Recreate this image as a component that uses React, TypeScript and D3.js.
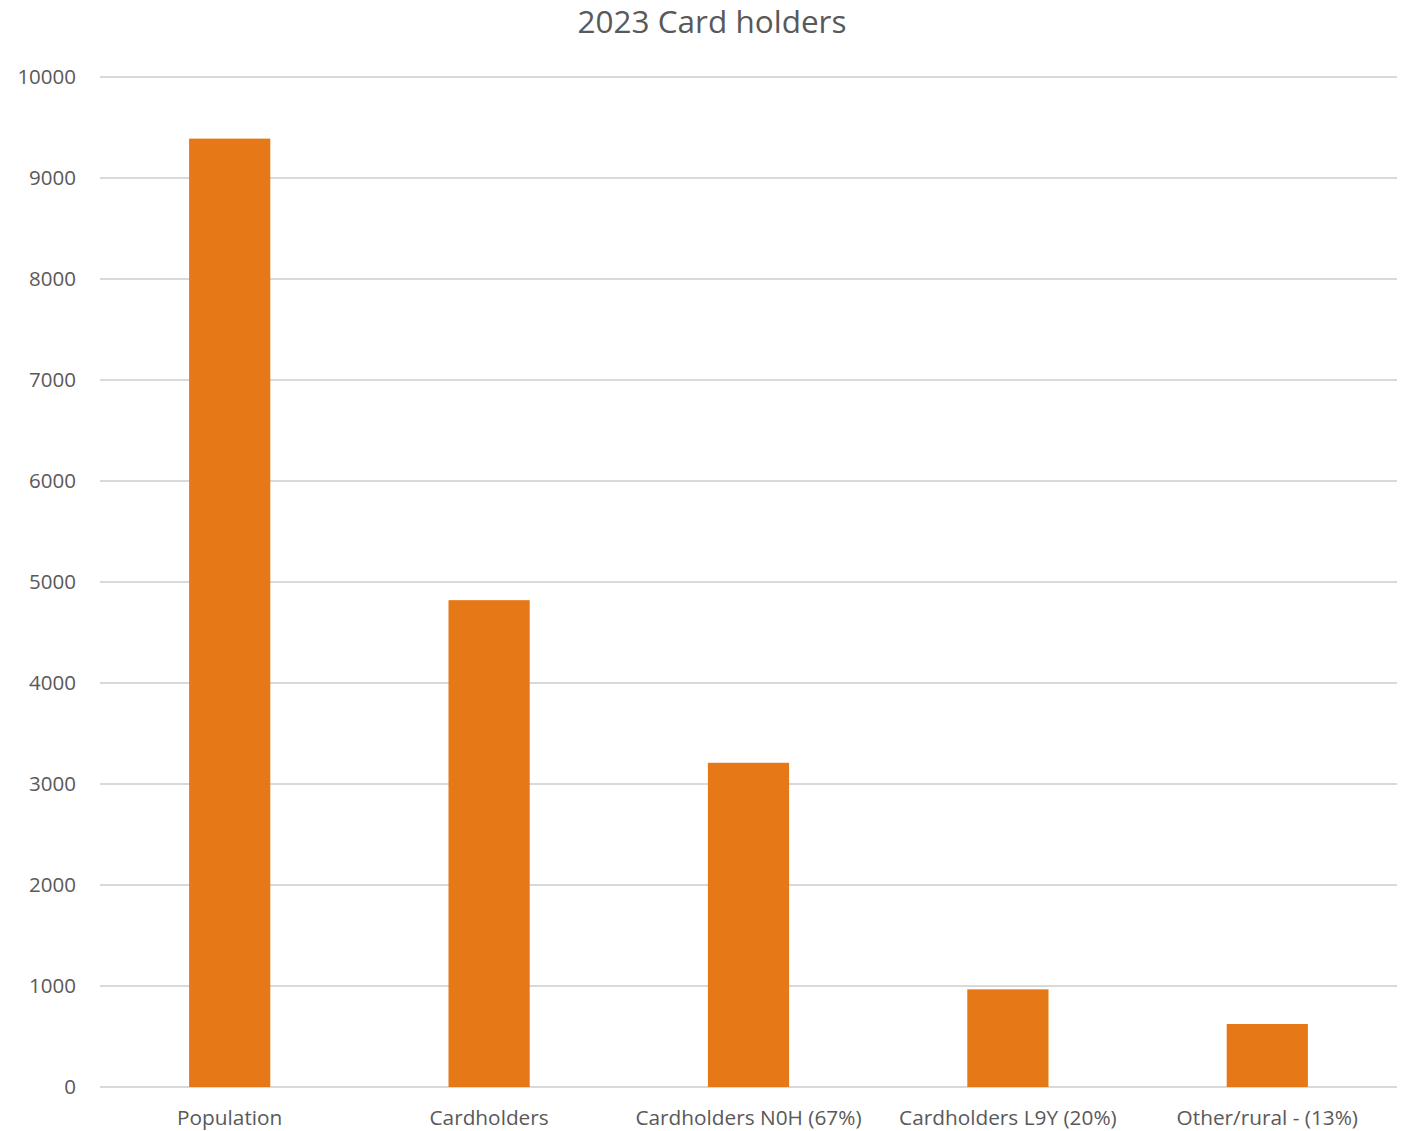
import React from "react";
import * as d3 from "d3";

const categories = [
  "Population",
  "Cardholders",
  "Cardholders N0H (67%)",
  "Cardholders L9Y (20%)",
  "Other/rural - (13%)",
];
const values = [9390, 4820, 3210, 967, 624];
const yTicks = [0, 1000, 2000, 3000, 4000, 5000, 6000, 7000, 8000, 9000, 10000];
const title = "2023 Card holders";

const W = 1407;
const H = 1131;
const margin = { left: 100, right: 10, top: 77, bottom: 44 };
const FONT = "'Open Sans', 'Liberation Sans', sans-serif";
const TEXT = "#595959";
const BAR = "#E67817";
const GRID = "#D9D9D9";

export default function App() {
  const x = d3
    .scaleBand<string>()
    .domain(categories)
    .range([margin.left, W - margin.right])
    .paddingInner(0.687)
    .paddingOuter(0.3435);
  const y = d3
    .scaleLinear()
    .domain([0, 10000])
    .range([H - margin.bottom, margin.top]);

  return (
    <svg
      width={W}
      height={H}
      style={{ position: "absolute", left: 0, top: 0, display: "block", background: "#fff" }}
      fontFamily={FONT}
    >
      <text x={712} y={33} textAnchor="middle" fontSize={31.5} fill={TEXT}>
        {title}
      </text>
      {yTicks.map((t) => (
        <g key={t}>
          <line
            x1={margin.left}
            x2={W - margin.right}
            y1={y(t)}
            y2={y(t)}
            stroke={GRID}
            strokeWidth={2}
          />
          <text
            x={76}
            y={y(t)}
            dy="0.35em"
            textAnchor="end"
            fontSize={20.5}
            fill={TEXT}
          >
            {t}
          </text>
        </g>
      ))}
      {categories.map((c, i) => (
        <rect
          key={c}
          x={x(c)}
          y={y(values[i])}
          width={x.bandwidth()}
          height={y(0) - y(values[i])}
          fill={BAR}
        />
      ))}
      {categories.map((c) => (
        <text
          key={c}
          x={(x(c) ?? 0) + x.bandwidth() / 2}
          y={1125}
          textAnchor="middle"
          fontSize={20.8}
          fill={TEXT}
        >
          {c}
        </text>
      ))}
    </svg>
  );
}
